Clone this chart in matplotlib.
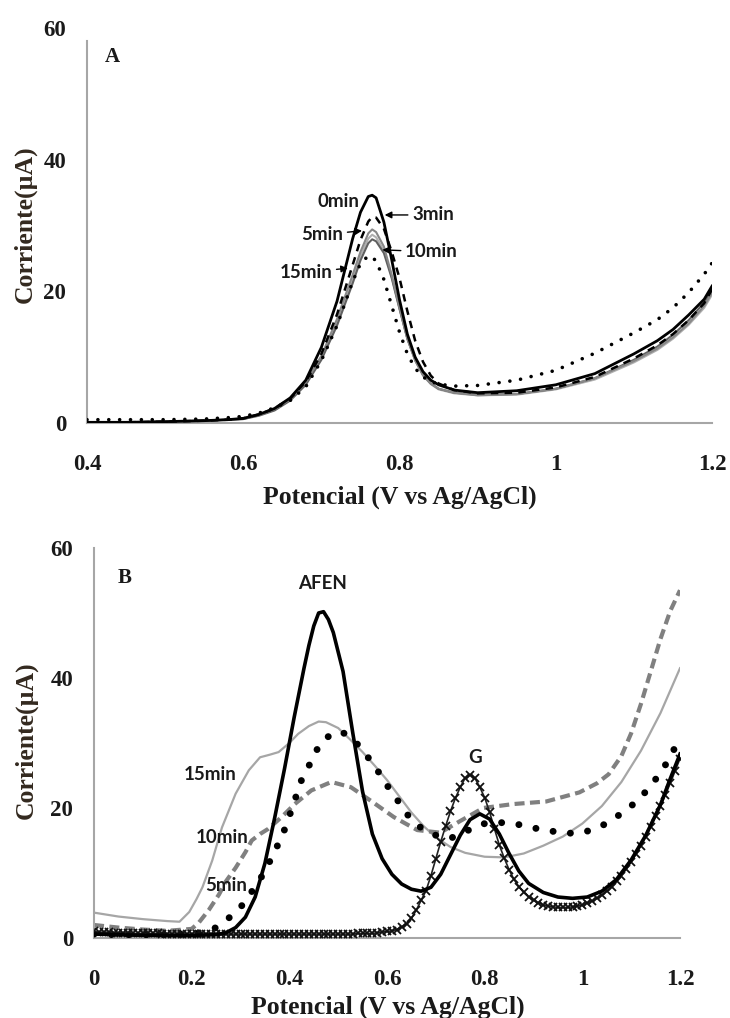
import numpy as np
import matplotlib
matplotlib.use('Agg')
import matplotlib.pyplot as plt

#%% datos panel A (potencial en V, corriente en uA)
xa = [0.40, 0.45, 0.50, 0.55, 0.58, 0.60, 0.62, 0.64, 0.66, 0.68, 0.70, 0.72,
      0.74, 0.75, 0.76, 0.765, 0.77, 0.78, 0.79, 0.80, 0.81, 0.82, 0.83, 0.84,
      0.85, 0.87, 0.90, 0.95, 1.00, 1.05, 1.10, 1.13, 1.15, 1.17, 1.19, 1.20]
a_0min = [0.1, 0.1, 0.2, 0.35, 0.5, 0.7, 1.3, 2.2, 3.8, 6.5, 11.5, 18.5,
          28.0, 32.0, 34.4, 34.6, 34.2, 30.5, 24.8, 18.7, 13.5, 10.0, 7.8, 6.5,
          5.8, 5.0, 4.6, 4.9, 5.8, 7.5, 10.5, 12.5, 14.2, 16.4, 18.8, 20.8]
a_3min = [0.1, 0.1, 0.2, 0.35, 0.5, 0.7, 1.3, 2.2, 3.7, 6.3, 10.5, 16.5,
          24.0, 27.8, 30.6, 31.3, 31.2, 29.5, 26.0, 22.0, 17.0, 12.5, 9.3, 7.2,
          6.0, 5.0, 4.5, 4.6, 5.4, 7.0, 9.8, 11.8, 13.5, 15.6, 18.2, 20.3]
a_5min = [0.1, 0.1, 0.2, 0.35, 0.5, 0.6, 1.2, 2.1, 3.6, 6.2, 10.2, 15.8,
          22.5, 26.0, 28.8, 29.4, 29.0, 26.8, 22.5, 17.5, 12.8, 9.5, 7.3, 6.0,
          5.2, 4.6, 4.2, 4.4, 5.2, 6.8, 9.4, 11.3, 13.0, 15.1, 17.8, 19.8]
a_7min = [0.1, 0.1, 0.2, 0.35, 0.5, 0.6, 1.2, 2.0, 3.5, 6.0, 9.9, 15.3,
          21.8, 25.4, 28.0, 28.6, 28.2, 26.2, 22.2, 17.4, 12.8, 9.5, 7.2, 5.9,
          5.1, 4.5, 4.2, 4.3, 5.1, 6.6, 9.2, 11.1, 12.8, 14.9, 17.5, 19.5]
a_10min = [0.1, 0.1, 0.2, 0.35, 0.5, 0.6, 1.1, 1.9, 3.4, 5.8, 9.6, 14.8,
           21.2, 24.7, 27.3, 27.9, 27.6, 25.8, 22.0, 17.3, 12.8, 9.6, 7.3, 6.0,
           5.2, 4.6, 4.3, 4.4, 5.2, 6.8, 9.6, 11.6, 13.4, 15.6, 18.3, 20.2]
a_15min = [0.5, 0.5, 0.5, 0.6, 0.8, 1.0, 1.5, 2.3, 3.4, 5.5, 9.5, 14.8,
           21.5, 24.2, 25.4, 25.2, 24.6, 21.8, 17.8, 13.8, 10.5, 8.3, 7.0, 6.3,
           5.9, 5.6, 5.7, 6.5, 8.0, 10.6, 13.7, 15.7, 17.5, 19.8, 22.6, 24.3]

#%% datos panel B
# AFEN inicial (linea negra)
xb_neg = [0.00, 0.05, 0.10, 0.15, 0.20, 0.25, 0.27, 0.29, 0.31, 0.33, 0.35, 0.37,
          0.39, 0.41, 0.43, 0.44, 0.45, 0.46, 0.47, 0.48, 0.49, 0.50, 0.51, 0.53,
          0.55, 0.57, 0.59, 0.61, 0.63, 0.65, 0.67, 0.69, 0.71, 0.73, 0.75, 0.77,
          0.79, 0.81, 0.83, 0.85, 0.87, 0.89, 0.92, 0.95, 0.98, 1.01, 1.04, 1.07,
          1.10, 1.13, 1.16, 1.18, 1.20]
b_neg = [0.6, 0.5, 0.4, 0.4, 0.4, 0.5, 0.8, 1.6, 3.2, 6.3, 11.5, 18.5,
         26.0, 34.0, 41.5, 45.0, 48.0, 50.0, 50.2, 49.0, 47.0, 44.0, 41.0, 31.5,
         22.5, 16.0, 12.2, 9.8, 8.3, 7.5, 7.2, 7.8, 9.8, 12.8, 15.8, 18.2,
         19.1, 18.3, 16.0, 13.0, 10.3, 8.4, 7.0, 6.3, 6.1, 6.3, 7.2, 9.0,
         12.0, 15.8, 20.5, 24.5, 28.3]

# G sola (cruces), muestreo cada 10 mV
xb_g = np.round(np.arange(0, 1.2001, 0.01), 2)
b_g = [1.0, 0.9, 0.9, 0.9, 0.8, 0.8, 0.8, 0.8, 0.7, 0.7,
       0.7, 0.7, 0.7, 0.7, 0.6, 0.6, 0.6, 0.6, 0.6, 0.6,
       0.6, 0.6, 0.6, 0.6, 0.6, 0.6, 0.6, 0.6, 0.6, 0.6,
       0.6, 0.6, 0.6, 0.6, 0.6, 0.6, 0.6, 0.6, 0.6, 0.6,
       0.6, 0.6, 0.6, 0.6, 0.6, 0.6, 0.6, 0.6, 0.6, 0.6,
       0.6, 0.6, 0.6, 0.6, 0.7, 0.7, 0.7, 0.7, 0.8, 0.9,
       1.0, 1.1, 1.3, 1.7, 2.2, 3.0, 4.3, 5.8, 7.3, 9.6,
       12.2, 14.8, 17.2, 19.5, 21.5, 23.2, 24.6, 25.1, 24.6, 23.2,
       21.6, 19.4, 16.8, 14.3, 12.3, 10.5, 9.0, 7.9, 7.0, 6.3,
       5.8, 5.4, 5.1, 4.9, 4.8, 4.7, 4.7, 4.7, 4.8, 4.9,
       5.1, 5.4, 5.7, 6.1, 6.6, 7.2, 7.9, 8.7, 9.6, 10.6,
       11.7, 12.9, 14.2, 15.6, 17.1, 18.7, 20.3, 22.0, 23.8, 25.7,
       27.6]

# 5 min (puntos)
xb_5 = [0.00, 0.05, 0.10, 0.15, 0.20, 0.23, 0.25, 0.275, 0.30, 0.32, 0.34, 0.36,
        0.386, 0.411, 0.421, 0.439, 0.453, 0.474, 0.506, 0.533, 0.557, 0.577,
        0.598, 0.618, 0.638, 0.662, 0.70, 0.729, 0.762, 0.79, 0.824, 0.861,
        0.895, 0.932, 0.966, 1.00, 1.034, 1.064, 1.10, 1.124, 1.148, 1.167,
        1.187, 1.20]
b_5 = [0.6, 0.5, 0.5, 0.5, 0.6, 1.0, 1.6, 3.0, 4.7, 6.8, 9.0, 11.8,
       15.8, 21.1, 23.7, 26.3, 28.6, 30.8, 31.8, 30.4, 28.2, 26.2,
       23.7, 21.6, 19.3, 17.3, 15.8, 15.3, 16.4, 17.5, 17.8, 17.6,
       17.0, 16.5, 16.1, 16.2, 17.0, 18.3, 20.3, 22.0, 24.2, 26.2,
       28.9, 31.0]

# 10 min (gris a trazos)
xb_10 = [0.00, 0.05, 0.10, 0.15, 0.20, 0.215, 0.235, 0.256, 0.27, 0.29, 0.31,
         0.323, 0.34, 0.357, 0.384, 0.411, 0.445, 0.486, 0.526, 0.567, 0.614,
         0.662, 0.709, 0.75, 0.797, 0.858, 0.926, 0.994, 1.03, 1.054, 1.08,
         1.10, 1.12, 1.14, 1.16, 1.18, 1.20]
b_10 = [2.0, 1.6, 1.3, 1.1, 1.4, 2.4, 4.3, 6.7, 8.7, 10.8, 13.2,
        15.0, 16.0, 16.8, 18.6, 20.6, 22.7, 24.0, 23.2, 21.1, 18.6,
        16.6, 16.2, 18.0, 20.0, 20.6, 21.0, 22.4, 23.8, 25.2, 28.0,
        31.5, 36.0, 41.0, 46.0, 50.3, 53.5]

# 15 min (gris fino)
xb_15 = [0.00, 0.05, 0.10, 0.15, 0.175, 0.195, 0.21, 0.222, 0.242, 0.262, 0.29,
         0.317, 0.34, 0.36, 0.378, 0.40, 0.418, 0.44, 0.46, 0.475, 0.50, 0.525,
         0.55, 0.575, 0.60, 0.625, 0.65, 0.675, 0.70, 0.73, 0.76, 0.80, 0.84,
         0.88, 0.92, 0.96, 1.00, 1.04, 1.08, 1.12, 1.16, 1.20]
b_15 = [3.9, 3.3, 2.9, 2.6, 2.5, 4.0, 6.0, 7.8, 11.9, 17.0, 22.2,
        25.8, 27.8, 28.2, 28.6, 30.0, 31.4, 32.6, 33.3, 33.2, 32.3, 30.5,
        28.6, 26.5, 24.3, 21.8, 19.3, 17.2, 15.5, 14.0, 13.1, 12.5, 12.4,
        13.0, 14.2, 15.6, 17.6, 20.3, 24.0, 28.8, 34.6, 41.5]

#%% estilo
serif = 'Liberation Serif'
sans = 'Lato'
gris_eje = '#a6a6a6'
col_txt = '#1a1a1a'
col_ylab = '#33291f'


def formato_eje(ax, xticks, xlabels, ytop):
    ax.set_ylim(0, 60)
    ax.set_yticks([0, 20, 40, 60])
    ax.set_xticks(xticks)
    ax.set_xticklabels(xlabels)
    for s in ['top', 'right']:
        ax.spines[s].set_visible(False)
    for s in ['left', 'bottom']:
        ax.spines[s].set_color(gris_eje)
        ax.spines[s].set_linewidth(1.5)
    ax.spines['left'].set_bounds(0, ytop)
    ax.tick_params(axis='both', length=0, labelsize=16.5, colors=col_txt)
    ax.tick_params(axis='x', pad=22)
    ax.tick_params(axis='y', pad=15)
    for lab in ax.get_xticklabels() + ax.get_yticklabels():
        lab.set_fontfamily(serif)
        lab.set_fontweight('bold')


fig = plt.figure(figsize=(7.3, 10.18), dpi=100)

#%% panel A
axA = fig.add_axes([0.1192, 0.5845, 0.8562, 0.388])
axA.plot(xa, a_7min, color='#b0b0b0', lw=1.5, zorder=2)
axA.plot(xa, a_10min, color='#606060', lw=1.5, zorder=2)
axA.plot(xa, a_5min, color='#888888', lw=1.5, zorder=2)
axA.plot(xa, a_3min, color='black', lw=1.8, ls=(0, (3, 2.5)), zorder=3)
axA.plot(xa, a_15min, color='black', lw=2.6, ls=(0, (0.01, 3.0)),
         dash_capstyle='round', zorder=3)
axA.plot(xa, a_0min, color='black', lw=2.0, zorder=4)
axA.set_xlim(0.4, 1.2)
formato_eje(axA, [0.4, 0.6, 0.8, 1.0, 1.2], ['0.4', '0.6', '0.8', '1', '1.2'], 58)

flecha = dict(arrowstyle='-|>', color='black', lw=1.0, mutation_scale=10,
              shrinkA=1, shrinkB=0)
ftA = dict(fontfamily=sans, fontweight='bold', fontsize=13.5, color=col_txt,
           va='center')
axA.text(0.748, 33.6, '0min', ha='right', **ftA)
axA.annotate('3min', xy=(0.781, 31.6), xytext=(0.816, 31.6), ha='left',
             arrowprops=flecha, **ftA)
axA.annotate('5min', xy=(0.752, 29.2), xytext=(0.728, 28.6), ha='right',
             arrowprops=flecha, **ftA)
axA.annotate('10min', xy=(0.778, 26.3), xytext=(0.807, 26.0), ha='left',
             arrowprops=flecha, **ftA)
axA.annotate('15min', xy=(0.734, 23.5), xytext=(0.714, 22.9), ha='right',
             arrowprops=flecha, **ftA)
axA.text(0.432, 55.6, 'A', fontfamily=serif, fontweight='bold', fontsize=15,
         ha='center', va='center', color=col_txt)

#%% panel B
axB = fig.add_axes([0.1288, 0.0786, 0.8027, 0.3831])
axB.plot(xb_15, b_15, color='#a6a6a6', lw=1.6, zorder=2)
axB.plot(xb_10, b_10, color='#808080', lw=3.0, ls=(0, (2.4, 1.3)), zorder=2)
axB.plot(xb_5, b_5, color='black', lw=5.0, ls=(0, (0.01, 2.5)),
         dash_capstyle='round', zorder=3)
axB.plot(xb_g, b_g, color='#222222', lw=1.2, marker='x', ms=5.5, mew=1.3,
         mec='#111111', zorder=3)
axB.plot(xb_neg, b_neg, color='black', lw=2.6, zorder=4)
axB.set_xlim(0, 1.2)
formato_eje(axB, [0, 0.2, 0.4, 0.6, 0.8, 1.0, 1.2],
            ['0', '0.2', '0.4', '0.6', '0.8', '1', '1.2'], 60)

ftB = dict(fontfamily=sans, fontweight='bold', fontsize=13.5, color=col_txt,
           ha='center', va='center')
axB.text(0.469, 54.6, 'AFEN', **ftB)
axB.text(0.781, 27.8, 'G', **ftB)
axB.text(0.238, 25.1, '15min', **ftB)
axB.text(0.262, 15.4, '10min', **ftB)
axB.text(0.270, 8.0, '5min', **ftB)
axB.text(0.0635, 55.4, 'B', fontfamily=serif, fontweight='bold', fontsize=15,
         ha='center', va='center', color=col_txt)

#%% titulos de ejes
ft_tit = dict(fontfamily=serif, fontweight='bold', fontsize=18.5, color=col_txt,
              ha='center', va='center')
fig.text(400 / 730, 1 - 497 / 1018, 'Potencial (V vs Ag/AgCl)', **ft_tit)
fig.text(388 / 730, 1 - 1007 / 1018, 'Potencial (V vs Ag/AgCl)', **ft_tit)
ft_y = dict(ft_tit, color=col_ylab, rotation=90)
fig.text(25 / 730, 1 - 224 / 1018, 'Corriente(µA)', **ft_y)
fig.text(26 / 730, 1 - 740 / 1018, 'Corriente(µA)', **ft_y)

fig.savefig('out.png', dpi=100)
